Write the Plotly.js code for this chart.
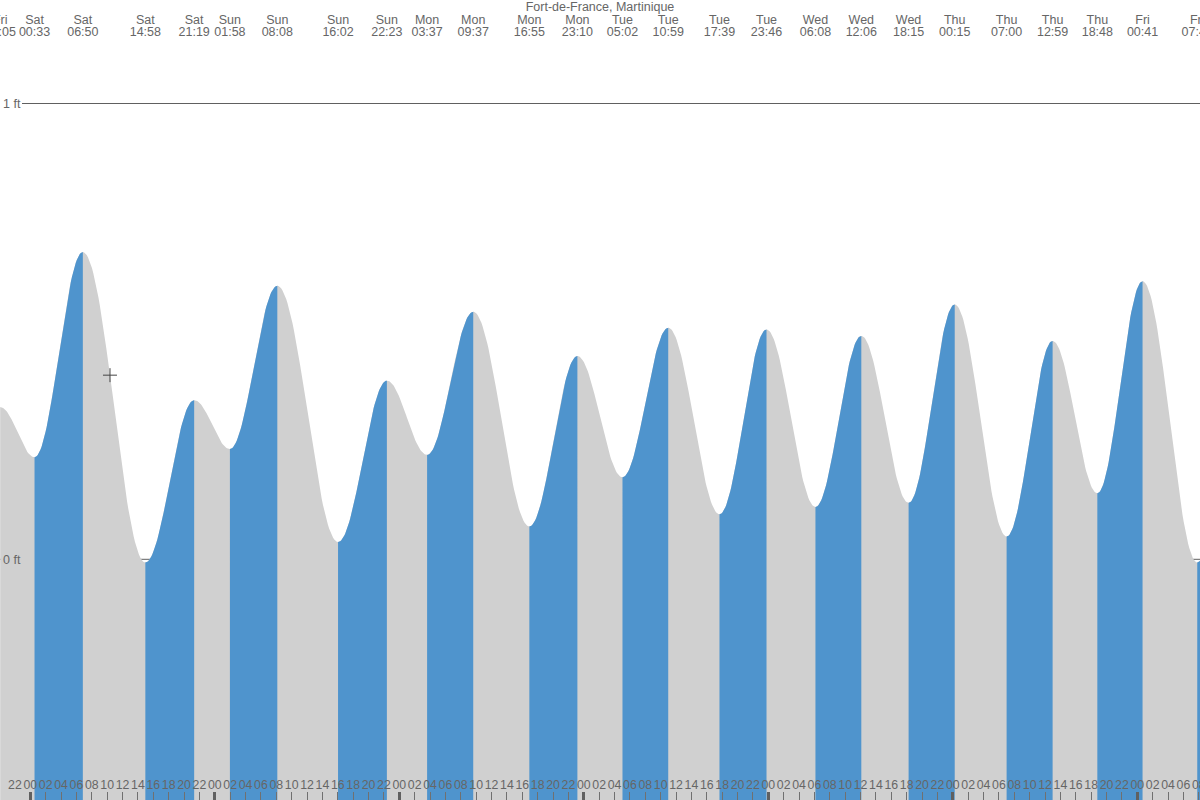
<!DOCTYPE html>
<html>
<head>
<meta charset="utf-8">
<script src="https://cdn.plot.ly/plotly-3.0.1.min.js"></script>
<style>
  html, body { margin: 0; padding: 0; background: #fff; }
  #chart { width: 1200px; height: 800px; }
</style>
</head>
<body>
<div id="chart"></div>
<script>
// ---- Data ----
// Tide extremes: day, local time, height (ft)
const extremeDays = ['Fri','Sat','Sat','Sat','Sat','Sun','Sun','Sun','Sun','Mon','Mon','Mon','Mon',
                     'Tue','Tue','Tue','Tue','Wed','Wed','Wed','Thu','Thu','Thu','Thu','Fri','Fri','Fri'];
const extremeTimes = ['20:05','00:33','06:50','14:58','21:19','01:58','08:08','16:02','22:23','03:37','09:37','16:55','23:10',
                      '05:02','10:59','17:39','23:46','06:08','12:06','18:15','00:15','07:00','12:59','18:48','00:41','07:48','13:50'];
const extremeHeights = [0.334, 0.224, 0.674, -0.007, 0.349, 0.242, 0.600, 0.038, 0.392, 0.229, 0.543, 0.072, 0.446,
                        0.180, 0.508, 0.099, 0.504, 0.115, 0.490, 0.124, 0.559, 0.050, 0.479, 0.145, 0.610, -0.007, 0.45];
// (last entry lies just beyond the right edge; estimated so the final rising sliver can be drawn)

const title = 'Fort-de-France, Martinique';
const hourLabels = ['00','02','04','06','08','10','12','14','16','18','20','22'];
const yTickValues = [0, 1];
const yTickLabels = ['0 ft', '1 ft'];
// current-time marker (the small cross)
const markerDay = 'Sat';
const markerTime = '10:22';
const markerHeight = [0.404];

// ---- Convert day/time to hours since Saturday 00:00 ----
function toHours(days, times) {
  const out = [];
  let d = -1; // first day is the Friday before Saturday
  for (let i = 0; i < days.length; i++) {
    if (i > 0 && days[i] !== days[i - 1]) d++;
    const [hh, mm] = times[i].split(':').map(Number);
    out.push(d * 24 + hh + mm / 60);
  }
  return out;
}
const extremeHours = toHours(extremeDays, extremeTimes);
const markerHour = (function () {
  const [hh, mm] = markerTime.split(':').map(Number);
  return ['Sat','Sun','Mon','Tue','Wed','Thu','Fri'].indexOf(markerDay) * 24 + hh + mm / 60;
})();

// ---- Tide curve between extremes (cosine shape between successive high/low) ----
const N = 48;
const gx = [], gy = [];      // whole curve (grey base)
const bx = [], by = [];      // rising segments (blue)
const FLOOR = -1;
for (let i = 0; i < extremeHours.length - 1; i++) {
  const t1 = extremeHours[i], t2 = extremeHours[i + 1];
  const h1 = extremeHeights[i], h2 = extremeHeights[i + 1];
  const segX = [], segY = [];
  for (let k = 0; k <= N; k++) {
    const f = k / N;
    segX.push(t1 + f * (t2 - t1));
    segY.push(h1 + (h2 - h1) * (1 - Math.cos(Math.PI * f)) / 2);
  }
  for (let k = (i === 0 ? 0 : 1); k <= N; k++) { gx.push(segX[k]); gy.push(segY[k]); }
  if (h2 > h1) {
    bx.push(...segX, t2, t1, null);
    by.push(...segY, FLOOR, FLOOR, null);
  }
}
gx.push(gx[gx.length - 1], gx[0]);
gy.push(FLOOR, FLOOR);

// ---- Axis ticks ----
const xMin = -3.941, xMax = 152.156;
const tickHours = [], tickText = [], midnightHours = [];
for (let h = -4; h <= 152; h += 2) {
  tickHours.push(h);
  tickText.push(hourLabels[((h % 24) + 24) % 24 / 2]);
  if (h % 24 === 0) midnightHours.push(h);
}

const FONT = 'Liberation Sans, Arial, sans-serif';
const TXT = '#666666';

const traces = [
  { x: gx, y: gy, type: 'scatter', mode: 'lines', fill: 'toself', fillcolor: '#d0d0d0',
    line: { width: 0, color: '#d0d0d0' }, hoverinfo: 'skip' },
  { x: bx, y: by, type: 'scatter', mode: 'lines', fill: 'toself', fillcolor: '#4f94cd',
    line: { width: 0, color: '#4f94cd' }, connectgaps: false, hoverinfo: 'skip' },
  { x: [markerHour], y: markerHeight, type: 'scatter', mode: 'markers',
    marker: { symbol: 'cross-thin', size: 10, color: '#444', line: { color: '#444', width: 1 } },
    hoverinfo: 'skip' },
  // top labels: day row and time row (overlay axes measured in pixel rows)
  { x: extremeHours, y: extremeHours.map(() => 20.5), xaxis: 'x2', yaxis: 'y2', type: 'scatter', mode: 'text',
    text: extremeDays, textposition: 'middle center', cliponaxis: false,
    textfont: { family: FONT, size: 12.5, color: TXT }, hoverinfo: 'skip' },
  { x: extremeHours, y: extremeHours.map(() => 32.5), xaxis: 'x2', yaxis: 'y2', type: 'scatter', mode: 'text',
    text: extremeTimes, textposition: 'middle center', cliponaxis: false,
    textfont: { family: FONT, size: 12.5, color: TXT }, hoverinfo: 'skip' },
  // bottom hour labels
  { x: tickHours, y: tickHours.map(() => 786), xaxis: 'x2', yaxis: 'y2', type: 'scatter', mode: 'text',
    text: tickText, textposition: 'middle center', cliponaxis: false,
    textfont: { family: FONT, size: 12.3, color: TXT }, hoverinfo: 'skip' }
];

const layout = {
  width: 1200, height: 800,
  margin: { l: 0, r: 0, t: 0, b: 0, pad: 0 },
  paper_bgcolor: '#ffffff', plot_bgcolor: '#ffffff',
  showlegend: false,
  font: { family: FONT, color: TXT },
  title: { text: title, font: { family: FONT, size: 12.5, color: TXT },
           x: 0.5, xanchor: 'center', y: 0.997, yanchor: 'top', yref: 'container', pad: { t: 0, b: 0 } },
  xaxis: { range: [xMin, xMax], showgrid: false, zeroline: false, showline: false,
           tickmode: 'array', tickvals: tickHours, showticklabels: false,
           ticks: 'inside', ticklen: 8, tickwidth: 1, tickcolor: '#707070', fixedrange: true },
  xaxis2: { overlaying: 'x', anchor: 'y2', range: [xMin, xMax], showgrid: false, zeroline: false, showline: false,
            tickmode: 'array', tickvals: midnightHours, showticklabels: false,
            ticks: 'inside', ticklen: 8, tickwidth: 3, tickcolor: '#606060', fixedrange: true },
  yaxis: { range: [-0.5281, 1.2271], showgrid: false, zeroline: false, showline: false,
           tickmode: 'array', tickvals: yTickValues, ticktext: yTickLabels,
           ticklabelposition: 'inside', ticks: '',
           tickfont: { family: FONT, size: 12.5, color: TXT }, fixedrange: true },
  yaxis2: { overlaying: 'y', range: [800, 0], visible: false, fixedrange: true },
  shapes: [
    { type: 'line', xref: 'paper', yref: 'y', x0: 22 / 1200, x1: 1, y0: 1, y1: 1,
      line: { color: '#606060', width: 1 }, layer: 'below' },
    { type: 'line', xref: 'paper', yref: 'y', x0: 0, x1: 1, y0: 0, y1: 0,
      line: { color: '#606060', width: 1 }, layer: 'below' }
  ]
};

Plotly.newPlot('chart', traces, layout, { staticPlot: true, displayModeBar: false });
</script>
</body>
</html>
